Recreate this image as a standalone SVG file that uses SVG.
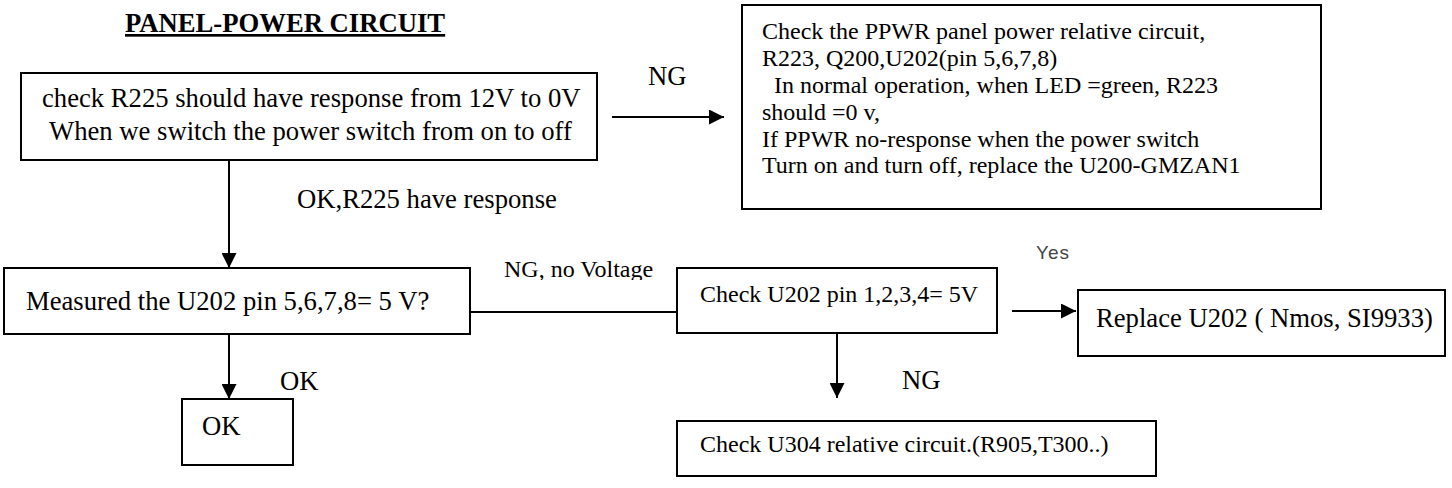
<svg xmlns="http://www.w3.org/2000/svg" width="1452" height="488" viewBox="0 0 1452 488">
<style>
.box{fill:#fff;stroke:#000;stroke-width:2}
.t{font-family:"Liberation Serif","Times New Roman",serif;fill:#000}
.big{font-size:26.67px}
.mid{font-size:24px}
.ln{stroke:#000;stroke-width:2;fill:none}
</style>
<defs>
<marker id="ah" viewBox="0 0 10 10" refX="10" refY="5" markerWidth="15" markerHeight="15" markerUnits="userSpaceOnUse" orient="auto">
<path d="M0,0 L10,5 L0,10 Z" fill="#000"/>
</marker>
<clipPath id="clipNG"><rect x="490" y="240" width="200" height="40"/></clipPath>
<clipPath id="clipYes"><rect x="1020" y="235" width="80" height="25"/></clipPath>
</defs>
<rect width="1452" height="488" fill="#fff"/>
<text class="t big" x="125" y="32" font-weight="bold" text-decoration="underline">PANEL-POWER CIRCUIT</text>
<g id="connectors">
<line class="ln" x1="612" y1="117" x2="724" y2="117" marker-end="url(#ah)"/>
<line class="ln" x1="229" y1="160" x2="229" y2="268" marker-end="url(#ah)"/>
<line class="ln" x1="229" y1="334" x2="229" y2="399" marker-end="url(#ah)"/>
<line class="ln" x1="470" y1="312" x2="677" y2="312"/>
<line class="ln" x1="1012" y1="311" x2="1076" y2="311" marker-end="url(#ah)"/>
<line class="ln" x1="837" y1="333" x2="837" y2="398" marker-end="url(#ah)"/>
<text class="t big" x="648" y="85">NG</text>
<text class="t big" x="297" y="208">OK,R225 have response</text>
<text class="t mid" x="504" y="277" clip-path="url(#clipNG)">NG, no Voltage</text>
<text x="1036" y="259" font-family="Liberation Sans, Arial, sans-serif" font-size="19" letter-spacing="1" fill="#444" clip-path="url(#clipYes)">Yes</text>
<text class="t big" x="280" y="390">OK</text>
<text class="t big" x="902" y="389">NG</text>
</g>
<g id="n1">
<rect class="box" x="21" y="73" width="576" height="87"/>
<text class="t big" x="42" y="107">check R225 should have response from 12V to 0V</text>
<text class="t big" x="49" y="140">When we switch the power switch from on to off</text>
</g>
<g id="n2">
<rect class="box" x="742" y="5" width="579" height="204"/>
<text class="t mid" x="762" y="39">Check the PPWR panel power relative circuit,</text>
<text class="t mid" x="762" y="66">R223, Q200,U202(pin 5,6,7,8)</text>
<text class="t mid" x="774" y="93">In normal operation, when LED =green, R223</text>
<text class="t mid" x="762" y="120">should =0 v,</text>
<text class="t mid" x="762" y="147">If PPWR no-response when the power switch</text>
<text class="t mid" x="762" y="173">Turn on and turn off, replace the U200-GMZAN1</text>
</g>
<g id="n3">
<rect class="box" x="4" y="268" width="466" height="66"/>
<text class="t big" x="26" y="310">Measured the U202 pin 5,6,7,8= 5 V?</text>
</g>
<g id="n4">
<rect class="box" x="182" y="399" width="111" height="66"/>
<text class="t big" x="202" y="435">OK</text>
</g>
<g id="n5">
<rect class="box" x="677" y="268" width="320" height="65"/>
<text class="t mid" x="700" y="302">Check U202 pin 1,2,3,4= 5V</text>
</g>
<g id="n6">
<rect class="box" x="1078" y="290" width="367" height="66"/>
<text class="t big" x="1096" y="327">Replace U202 ( Nmos, SI9933)</text>
</g>
<g id="n7">
<rect class="box" x="677" y="421" width="479" height="55"/>
<text class="t mid" x="700" y="452">Check U304 relative circuit.(R905,T300..)</text>
</g>
</svg>
